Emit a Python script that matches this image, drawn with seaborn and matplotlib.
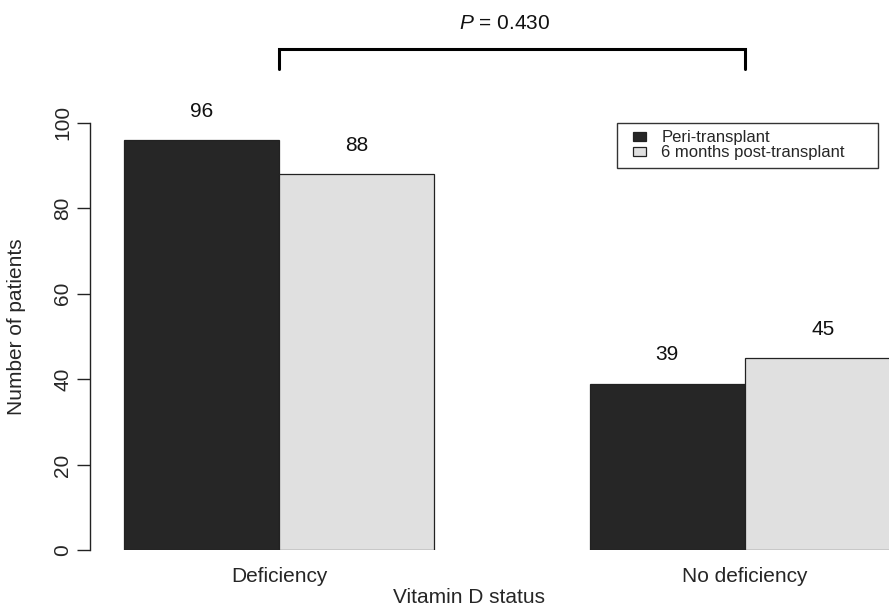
import pandas as pd
import seaborn as sns
import matplotlib.pyplot as plt
import matplotlib.patches as mpatches
from matplotlib.legend_handler import HandlerPatch

# data
status = ["Deficiency", "No deficiency"]
peri = [96, 39]
post6 = [88, 45]
groups = ["Peri-transplant", "6 months post-transplant"]
p_label = "= 0.430"

sns.set_theme(style="white")
plt.rcParams["font.family"] = ["Liberation Sans", "DejaVu Sans"]
plt.rcParams["mathtext.fontset"] = "custom"
plt.rcParams["mathtext.it"] = "Liberation Sans:italic"
plt.rcParams["mathtext.rm"] = "Liberation Sans"

df = pd.DataFrame({
    "status": status * 2,
    "count": peri + post6,
    "group": [groups[0]] * len(status) + [groups[1]] * len(status),
})

fig = plt.figure(figsize=(8.89, 6.08), dpi=100)
ax = fig.add_axes([0.1012, 0.0946, 0.8988, 0.7036])

sns.barplot(data=df, x="status", y="count", hue="group", hue_order=groups,
            palette=["#262626", "#e0e0e0"], width=2 / 3, errorbar=None,
            edgecolor="#222222", linewidth=0.9, ax=ax)

ax.set_xlim(-0.4056, 1.309)
ax.set_ylim(0, 100)
ax.set_yticks([0, 20, 40, 60, 80, 100])
for s in ["top", "right", "bottom"]:
    ax.spines[s].set_visible(False)
ax.spines["left"].set_color("#222222")
ax.spines["left"].set_linewidth(1.0)
ax.tick_params(axis="y", left=True, length=9.6, width=1.0, color="#222222",
               pad=3, labelsize=15, labelrotation=90)
for t in ax.get_yticklabels():
    t.set_va("center")
ax.tick_params(axis="x", bottom=False, length=0, pad=12, labelsize=15)

ax.set_xlabel("Vitamin D status", fontsize=15)
ax.xaxis.label.set_va("center")
ax.xaxis.set_label_coords(0.474, -0.111)
ax.set_ylabel("Number of patients", fontsize=15)
ax.yaxis.label.set_va("center")
ax.yaxis.set_label_coords(-0.0914, 0.522)

# value labels above bars
for cont in ax.containers:
    for bar in cont:
        h = bar.get_height()
        ax.text(bar.get_x() + bar.get_width() / 2, h + 6.7, f"{h:.0f}",
                ha="center", va="center", fontsize=15, color="#111111")

# significance bracket between the two categories
top = max(peri + post6)
ax.plot([0, 0, 1, 1], [top + 16.6, top + 21.2, top + 21.2, top + 16.6],
        color="black", lw=2.2, clip_on=False, solid_joinstyle="miter")
ax.text(0.485, top + 27.3, r"$P$ " + p_label, ha="center", va="center",
        fontsize=15, color="#111111")


# small filled box sitting at the right end of the handle area (R style)
def box_patch(legend, orig_handle, xdescent, ydescent, width, height, fontsize):
    w, hh = 0.8 * fontsize, 0.5 * fontsize
    return mpatches.Rectangle((-xdescent + width - w, -ydescent + (height - hh) / 2),
                              w, hh)


old = ax.get_legend()
handles = list(old.legend_handles)
labels = [t.get_text() for t in old.get_texts()]
handler = HandlerPatch(patch_func=box_patch)
ax.legend(handles, labels, loc="upper left",
          bbox_to_anchor=(617 / 889, 0.7977 - 0.1, 261 / 889, 0.1),
          bbox_transform=fig.transFigure, mode="expand",
          handler_map={type(h): handler for h in handles},
          borderaxespad=0, fontsize=12, frameon=True, fancybox=False,
          edgecolor="#333333", framealpha=1, handlelength=1.3,
          handleheight=0.5, handletextpad=0.9, labelspacing=0.0,
          borderpad=0.45, title=None)
ax.get_legend().get_frame().set_linewidth(1.0)

fig.savefig("out.png", dpi=100)
